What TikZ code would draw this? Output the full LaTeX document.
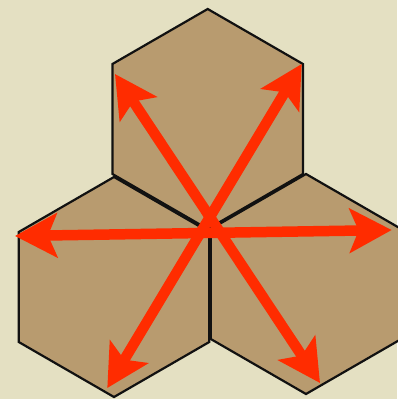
\documentclass[tikz,border=0pt]{standalone}
\usetikzlibrary{arrows.meta, shapes.geometric}
\definecolor{paper}{HTML}{E4E0C2}
\definecolor{card}{HTML}{B89B6F}
\definecolor{edge}{HTML}{111111}
\definecolor{spoke}{HTML}{FF2C00}
\tikzset{
  hxtile/.style  = {regular polygon, regular polygon sides=6, shape border rotate=30,
                    minimum size=220pt, inner sep=0pt, outer sep=0pt,
                    draw=edge, line width=2.2pt, fill=card},
  hxtip/.tip     = {Stealth[length=42pt, width=44pt, inset=9pt]},
  hxspoke/.style = {hxtip-hxtip, draw=spoke, line width=10.5pt},
}

\begin{document}
\begin{tikzpicture}[x=1pt, y=-1pt]

\fill[paper] (0,0) rectangle (397,399);
\useasboundingbox (0,0) rectangle (397,399);

% three tiles
\foreach \n/\x/\y in {T/207.7/119, L/114/287, R/306/284}{
  \node[hxtile] (H\n) at (\x,\y) {};
}

% spoke ends
\coordinate (pUL) at (115,74);
\coordinate (pLR) at (320,383);
\coordinate (pUR) at (301.7,64);
\coordinate (pLL) at (107.3,388);
\coordinate (pL)  at (15,236);
\coordinate (pR)  at (391.7,230);

\foreach \a/\b in {pUL/pLR, pUR/pLL, pL/pR}{\draw[hxspoke] (\a) -- (\b);}

\end{tikzpicture}
\end{document}
